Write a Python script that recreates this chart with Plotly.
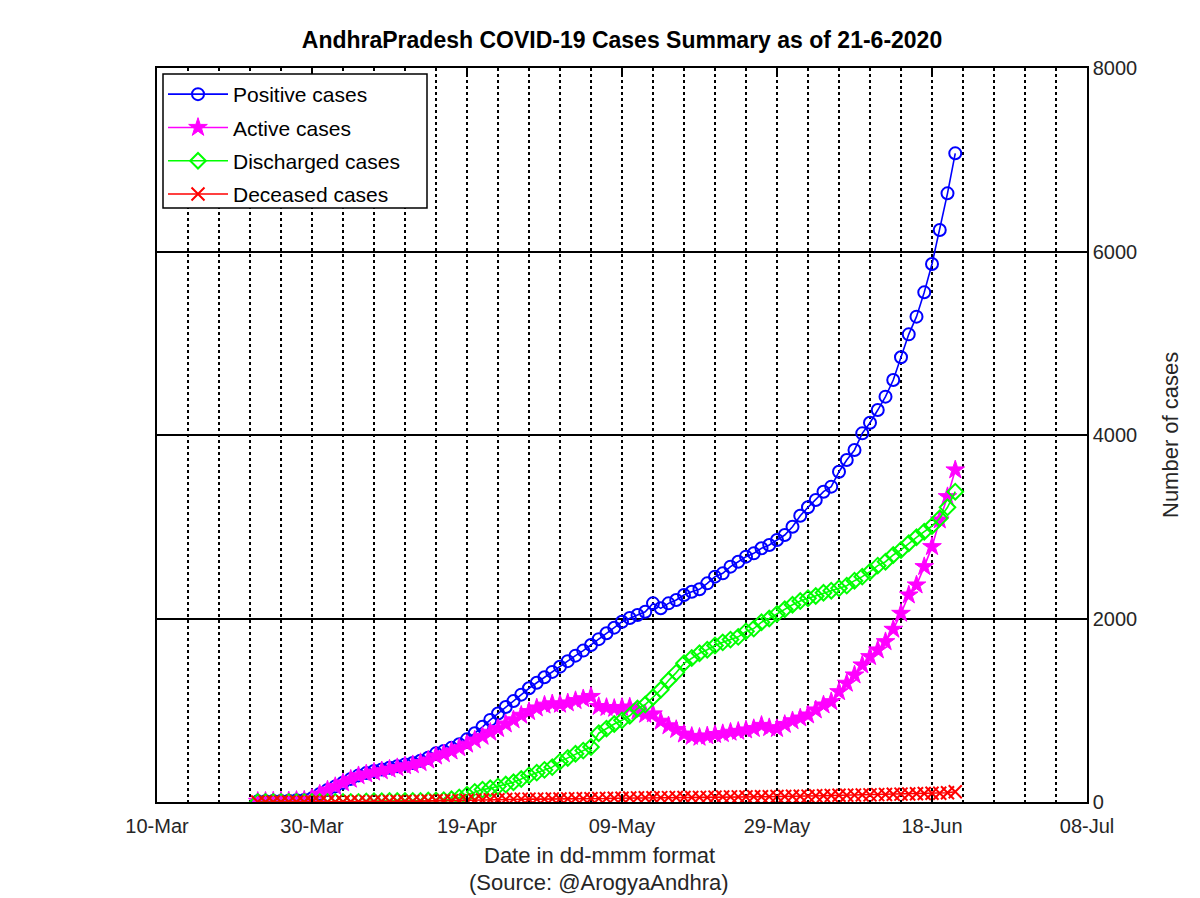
import plotly.graph_objects as go
import pandas as pd

dates = pd.date_range("2020-03-23", "2020-06-21", freq="D")

positive = [7, 8, 10, 11, 14, 19, 21, 40, 87, 132,
            170, 210, 252, 290, 315, 338, 355, 374, 390, 410,
            425, 450, 483, 530, 555, 590, 630, 683, 750, 820,
            895, 965, 1035, 1100, 1170, 1239, 1300, 1360, 1418, 1475,
            1535, 1595, 1650, 1711, 1775, 1840, 1900, 1965, 2005, 2038,
            2074, 2165, 2111, 2165, 2202, 2256, 2292, 2318, 2383, 2456,
            2492, 2565, 2619, 2674, 2710, 2765, 2801, 2856, 2910, 3000,
            3120, 3212, 3292, 3382, 3437, 3600, 3728, 3837, 4018, 4134,
            4272, 4418, 4599, 4847, 5097, 5290, 5555, 5864, 6234, 6634,
            7070]

active = [7, 8, 10, 10, 13, 18, 20, 39, 86, 131,
          168, 208, 248, 286, 305, 325, 340, 358, 374, 394,
          406, 429, 456, 500, 525, 555, 590, 630, 675, 715,
          760, 800, 850, 895, 945, 985, 1025, 1055, 1070, 1065,
          1080, 1105, 1125, 1150, 1040, 1030, 1020, 1030, 1035, 990,
          955, 960, 880, 830, 790, 740, 715, 705, 720, 735,
          745, 760, 770, 785, 800, 835, 810, 800, 845, 885,
          915, 948, 1003, 1057, 1093, 1202, 1294, 1384, 1493, 1584,
          1657, 1747, 1882, 2056, 2256, 2365, 2565, 2783, 3074, 3328,
          3619]

discharged = [0, 0, 0, 1, 1, 1, 1, 1, 1, 1,
              1, 1, 1, 1, 6, 9, 9, 10, 10, 10,
              12, 12, 16, 16, 20, 30, 50, 80, 110, 135,
              150, 170, 190, 215, 250, 290, 320, 350, 380, 440,
              480, 525, 560, 600, 750, 800, 850, 890, 940, 1020,
              1062, 1142, 1223, 1324, 1410, 1512, 1570, 1621, 1660, 1705,
              1740, 1770, 1800, 1860, 1890, 1960, 2000, 2050, 2100, 2150,
              2190, 2220, 2245, 2281, 2303, 2329, 2358, 2412, 2456, 2510,
              2576, 2619, 2692, 2747, 2820, 2885, 2946, 3008, 3092, 3212,
              3382]

deceased = [0, 0, 0, 0, 0, 0, 0, 0, 0, 0,
            1, 1, 3, 3, 4, 4, 6, 6, 6, 6,
            7, 9, 11, 14, 14, 15, 15, 17, 20, 22,
            24, 24, 27, 31, 31, 31, 31, 31, 33, 33,
            34, 36, 36, 36, 38, 38, 41, 41, 44, 45,
            46, 47, 48, 48, 49, 49, 49, 50, 50, 53,
            55, 56, 56, 56, 57, 57, 58, 60, 60, 62,
            62, 64, 68, 68, 71, 73, 73, 75, 77, 78,
            80, 82, 84, 86, 88, 90, 92, 95, 96, 101,
            111]

FONT = "Liberation Sans, Arial, Helvetica, sans-serif"
DAY = 86400000
PW, PH, PL, PB = 930, 734, 157, 802  # plot area size and origin (px)

fig = go.Figure()
fig.add_trace(go.Scatter(
    x=dates, y=positive, mode="lines+markers", name="Positive cases", legendgroup="p",
    line=dict(color="#0000FF", width=1.6),
    marker=dict(symbol="circle-open", size=12, color="#0000FF", line=dict(width=2))))
fig.add_trace(go.Scatter(
    x=dates, y=active, mode="lines+markers", name="Active cases", legendgroup="a",
    line=dict(color="#FF00FF", width=1.6),
    marker=dict(symbol="star", size=14, color="#FF00FF", line=dict(width=1, color="#FF00FF"))))
fig.add_trace(go.Scatter(
    x=dates, y=discharged, mode="lines+markers", name="Discharged cases", legendgroup="d",
    line=dict(color="#00FF00", width=1.6),
    marker=dict(symbol="diamond-open", size=12, color="#00FF00", line=dict(width=2))))
fig.add_trace(go.Scatter(
    x=dates, y=deceased, mode="lines+markers", name="Deceased cases", legendgroup="x",
    line=dict(color="#FF0000", width=1.6),
    marker=dict(symbol="x-thin-open", size=13, color="#FF0000", line=dict(width=2))))

fig.update_layout(
    width=1200, height=898,
    margin=dict(l=157, r=113, t=68, b=96),
    paper_bgcolor="white", plot_bgcolor="white",
    font=dict(family=FONT, size=20, color="#262626"),
    title=dict(text="<b>AndhraPradesh COVID-19 Cases Summary as of 21-6-2020</b>",
               x=0.5, xref="paper", xanchor="center",
               y=1 - 40 / 898, yref="container", yanchor="middle",
               font=dict(family=FONT, size=23, color="black")),
    showlegend=True,
    legend=dict(x=(163 - PL) / PW, y=(PB - 74) / PH, xanchor="left", yanchor="top",
                bgcolor="rgba(0,0,0,0)", borderwidth=0,
                font=dict(family=FONT, size=21, color="black"),
                itemwidth=60, traceorder="grouped", tracegroupgap=3),
    xaxis=dict(
        type="date", range=["2020-03-10", "2020-07-08"],
        tick0="2020-03-10", dtick=20 * DAY, tickformat="%d-%b",
        ticks="inside", ticklen=6, tickcolor="black", tickwidth=1.5,
        ticklabelstandoff=5,
        showline=True, linecolor="black", linewidth=1.5, mirror="allticks",
        showgrid=True, gridcolor="black", griddash="dot", gridwidth=2,
        zeroline=False,
        minor=dict(tick0="2020-03-10", dtick=4 * DAY, showgrid=True,
                   gridcolor="black", griddash="dot", gridwidth=2, ticks=""),
        tickfont=dict(size=20, color="#262626"),
    ),
    yaxis=dict(
        range=[0, 8000], dtick=2000, side="right",
        ticks="inside", ticklen=6, tickcolor="black",
        showline=True, linecolor="black", linewidth=1.5, mirror="allticks",
        showgrid=True, gridcolor="black", gridwidth=2,
        zeroline=False,
        tickfont=dict(size=20, color="#262626"),
    ),
)

# opaque legend box (drawn above the data, legend entries sit on top of it)
fig.add_shape(type="rect", xref="paper", yref="paper", layer="above",
              x0=(163 - PL) / PW, x1=(427 - PL) / PW,
              y0=(PB - 208) / PH, y1=(PB - 74) / PH,
              fillcolor="white", line=dict(color="black", width=1.5))

fig.add_annotation(text="Date in dd-mmm format", xref="paper", yref="paper",
                   x=(599 - PL) / PW, y=(PB - 855) / PH, showarrow=False,
                   xanchor="center", yanchor="middle",
                   font=dict(family=FONT, size=22, color="#262626"))
fig.add_annotation(text="(Source: @ArogyaAndhra)", xref="paper", yref="paper",
                   x=(599 - PL) / PW, y=(PB - 882) / PH, showarrow=False,
                   xanchor="center", yanchor="middle",
                   font=dict(family=FONT, size=22, color="#262626"))
fig.add_annotation(text="Number of cases", xref="paper", yref="paper",
                   x=(1170 - PL) / PW, y=0.5, showarrow=False, textangle=-90,
                   xanchor="center", yanchor="middle",
                   font=dict(family=FONT, size=22, color="#262626"))

fig.write_html("out.html")
